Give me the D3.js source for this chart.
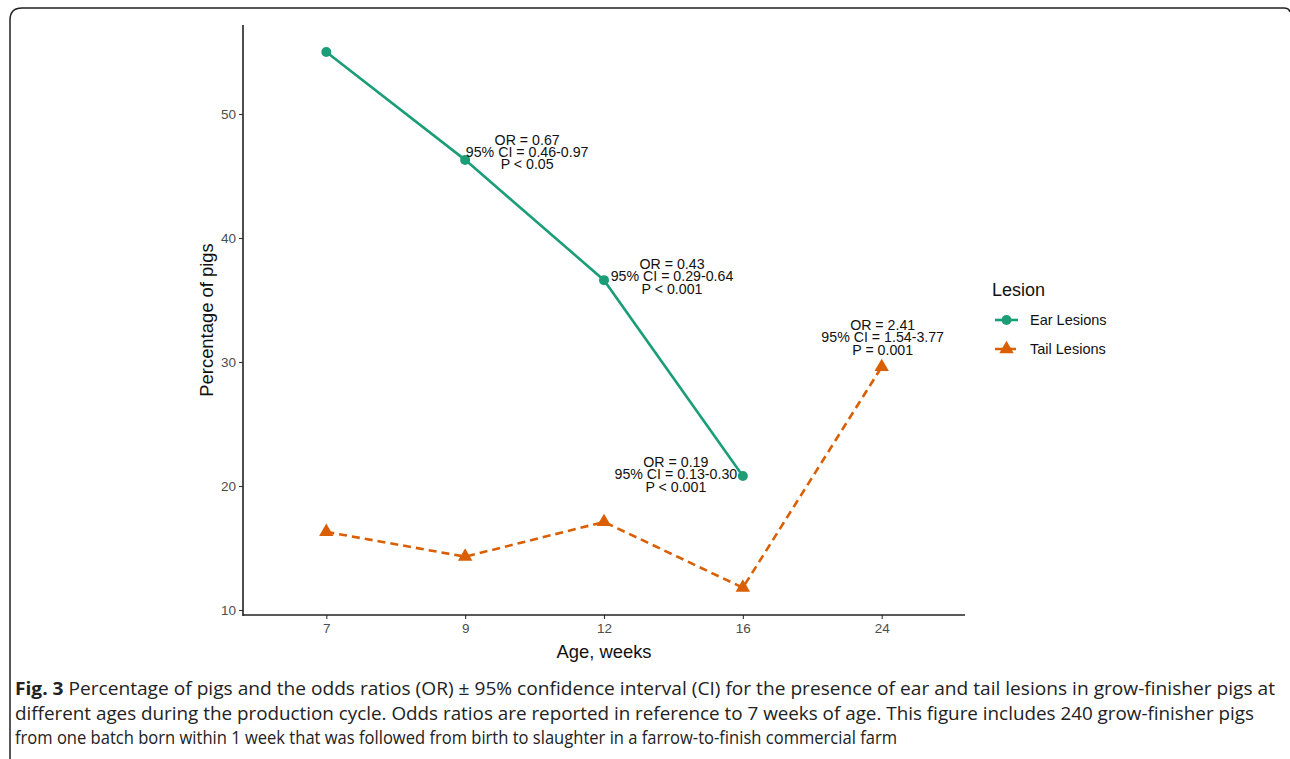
<!DOCTYPE html>
<html><head><meta charset="utf-8">
<script src="https://cdn.jsdelivr.net/npm/d3@7"></script>
<style>body{margin:0;background:#fff}svg{display:block}</style>
</head><body>
<svg id="c" width="1290" height="759"></svg>
<script>
const ages = ["7","9","12","16","24"];
const earValues = [55.0, 46.3, 36.6, 20.8];
const tailValues = [16.3, 14.3, 17.1, 11.8, 29.6];
const yTicks = [10, 20, 30, 40, 50];
const annotations = [
  {age:"9", value:46.3, lines:["OR = 0.67","95% CI = 0.46-0.97","P < 0.05"]},
  {age:"12", value:36.6, lines:["OR = 0.43","95% CI = 0.29-0.64","P < 0.001"]},
  {age:"16", value:20.8, lines:["OR = 0.19","95% CI = 0.13-0.30","P < 0.001"]},
  {age:"24", value:29.6, lines:["OR = 2.41","95% CI = 1.54-3.77","P = 0.001"]}
];
const annOffsets = [[62,-15],[68,-11],[-67,-9],[1,-37]];
const captionLines = [
  ["Fig. 3", " Percentage of pigs and the odds ratios (OR) ± 95% confidence interval (CI) for the presence of ear and tail lesions in grow-finisher pigs at"],
  ["", "different ages during the production cycle. Odds ratios are reported in reference to 7 weeks of age. This figure includes 240 grow-finisher pigs"],
  ["", "from one batch born within 1 week that was followed from birth to slaughter in a farrow-to-finish commercial farm"]
];
const captionWidths = [1260, 1239, 882];

(function(){
const svg = d3.select("#c");
const earColor = "#1b9e77", tailColor = "#d95f02";
const font = "'Liberation Sans', Arial, sans-serif";

svg.append("path")
  .attr("d","M10,759 L10,20 Q10,8 22,8 L1284,8 Q1289,8 1290,12")
  .attr("fill","none").attr("stroke","#222").attr("stroke-width",1.5);

const pL = 243, pR = 965, pT = 25, pB = 615;
const x = d3.scalePoint().domain(ages).range([pL, pR]).padding(0.6);
const y = d3.scaleLinear().domain([10, 50]).range([610, 114]);

const yAxis = svg.append("g").attr("transform",`translate(${pL},0)`)
  .call(d3.axisLeft(y).tickValues(yTicks).tickSize(4).tickPadding(3));
yAxis.select(".domain").remove();
svg.append("line").attr("x1",pL).attr("x2",pL).attr("y1",pT).attr("y2",pB+1)
  .attr("stroke","#222").attr("stroke-width",1.6);
const xAxis = svg.append("g").attr("transform",`translate(0,${pB})`)
  .call(d3.axisBottom(x).tickSize(4).tickPadding(4));
xAxis.select(".domain").remove();
svg.append("line").attr("x1",pL).attr("x2",pR).attr("y1",pB).attr("y2",pB)
  .attr("stroke","#222").attr("stroke-width",1.6);
[yAxis,xAxis].forEach(g=>{
  g.selectAll(".tick line").attr("stroke","#333").attr("stroke-width",1.1);
  g.selectAll(".tick text").attr("fill","#4d4d4d").attr("font-size",13.5).attr("font-family",font);
});

svg.append("text").attr("x",(pL+pR)/2).attr("y",658).attr("text-anchor","middle")
  .attr("font-size",18.4).attr("font-family",font).attr("fill","#111").text("Age, weeks");
svg.append("text").attr("transform",`translate(213,${(pT+pB)/2}) rotate(-90)`)
  .attr("text-anchor","middle").attr("font-size",18.4).attr("font-family",font).attr("fill","#111")
  .text("Percentage of pigs");

const earData = earValues.map((v,i)=>({age:ages[i], v}));
const tailData = tailValues.map((v,i)=>({age:ages[i], v}));
const line = d3.line().x(d=>x(d.age)).y(d=>y(d.v));
svg.append("path").datum(earData).attr("d",line).attr("fill","none")
  .attr("stroke",earColor).attr("stroke-width",2.6);
svg.append("path").datum(tailData).attr("d",line).attr("fill","none")
  .attr("stroke",tailColor).attr("stroke-width",2.6).attr("stroke-dasharray","8,5");
svg.selectAll(".ep").data(earData).join("circle").attr("class","ep")
  .attr("cx",d=>x(d.age)).attr("cy",d=>y(d.v)).attr("r",5).attr("fill",earColor);
const tri = d3.symbol().type(d3.symbolTriangle).size(90);
svg.selectAll(".tp").data(tailData).join("path").attr("class","tp")
  .attr("transform",d=>`translate(${x(d.age)},${y(d.v)})`).attr("d",tri).attr("fill",tailColor);

annotations.forEach((a,i)=>{
  const t = svg.append("text").attr("text-anchor","middle").attr("font-size",14.2)
    .attr("font-family",font).attr("fill","#111");
  const cx = x(a.age)+annOffsets[i][0], cy = y(a.value)+annOffsets[i][1];
  a.lines.forEach((l,j)=>{
    t.append("tspan").attr("x",cx).attr("y",cy + j*12.3).text(l);
  });
});

const lg = svg.append("g").attr("font-family",font);
lg.append("text").attr("x",992).attr("y",295.5).attr("font-size",18).attr("fill","#111").text("Lesion");
const items = [{name:"Ear Lesions", color:earColor, dash:null, shape:"c"},
               {name:"Tail Lesions", color:tailColor, dash:"8,5", shape:"t"}];
items.forEach((it,i)=>{
  const yy = 320 + i*29;
  lg.append("line").attr("x1",995).attr("x2",1018).attr("y1",yy).attr("y2",yy)
    .attr("stroke",it.color).attr("stroke-width",2.6).attr("stroke-dasharray",it.dash);
  if(it.shape==="c") lg.append("circle").attr("cx",1006.5).attr("cy",yy).attr("r",5).attr("fill",it.color);
  else lg.append("path").attr("transform",`translate(1006.5,${yy})`).attr("d",tri).attr("fill",it.color);
  lg.append("text").attr("x",1030).attr("y",yy+5).attr("font-size",14.5).attr("fill","#111").text(it.name);
});

captionLines.forEach((cl,i)=>{
  const t = svg.append("text").attr("x",15).attr("y",695+i*24.5)
    .attr("font-family","'Open Sans', sans-serif").attr("font-size",17.5).attr("fill","#222")
    .attr("textLength",captionWidths[i]).attr("lengthAdjust","spacingAndGlyphs");
  if(cl[0]) t.append("tspan").attr("font-weight","bold").text(cl[0]);
  t.append("tspan").text(cl[1]);
});
})();
</script>
</body></html>
